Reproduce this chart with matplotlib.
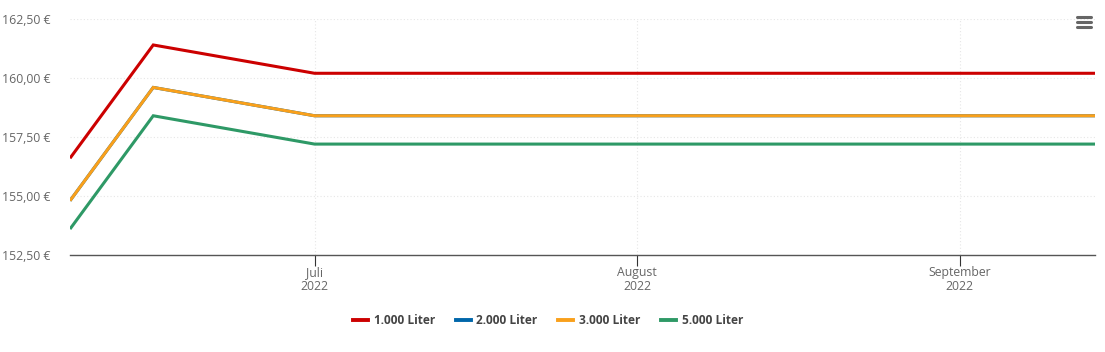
import matplotlib
matplotlib.use("Agg")
import matplotlib.pyplot as plt
from matplotlib.lines import Line2D
import datetime as dt

plt.rcParams['font.family'] = ['Open Sans', 'DejaVu Sans']

dates = [dt.datetime(2022, 6, 7, 12), dt.datetime(2022, 6, 15, 12), dt.datetime(2022, 7, 1), dt.datetime(2022, 9, 14)]
series_names = ["1.000 Liter", "2.000 Liter", "3.000 Liter", "5.000 Liter"]
s1000 = [156.6, 161.4, 160.2, 160.2]
s2000 = [154.8, 159.6, 158.4, 158.4]
s3000 = [154.8, 159.6, 158.4, 158.4]
s5000 = [153.6, 158.4, 157.2, 157.2]
colors = ["#cc0000", "#0066aa", "#f9a01b", "#2e9966"]
tick_dates = [dt.datetime(2022, 7, 1), dt.datetime(2022, 8, 1), dt.datetime(2022, 9, 1)]
tick_labels = ["Juli\n2022", "August\n2022", "September\n2022"]
y_ticks = [152.5, 155.0, 157.5, 160.0, 162.5]

fig = plt.figure(figsize=(11.05, 3.52), dpi=100)
ax = fig.add_axes([70/1105, 1-255/352, (1095-70)/1105, (255-19)/352])

for name, vals, c in zip(series_names, [s1000, s2000, s3000, s5000], colors):
    ax.plot(dates, vals, color=c, lw=2.2, label=name, solid_joinstyle='miter', solid_capstyle='butt')

ax.set_xlim(dates[0], dates[-1])
ax.set_ylim(152.5, 162.5)
ax.set_yticks(y_ticks)
ax.set_yticklabels([f"{v:,.2f} €".replace(".", ",") for v in y_ticks])
ax.set_xticks(tick_dates)
ax.set_xticklabels(tick_labels)

ax.grid(True, color="#e6e6e6", linestyle=(0, (1, 2)), linewidth=0.8)
ax.set_axisbelow(True)
for s in ["top", "right", "left"]:
    ax.spines[s].set_visible(False)
ax.spines["bottom"].set_color("#555555")
ax.spines["bottom"].set_linewidth(1)
ax.tick_params(axis="y", length=0, labelcolor="#666666", labelsize=8.8, pad=14)
ax.tick_params(axis="x", length=8, color="#333333", labelcolor="#666666", labelsize=8.8, pad=0)
for lbl in ax.get_xticklabels():
    lbl.set_linespacing(1.1)

handles = [Line2D([0], [0], color=c, lw=2.8) for c in colors]
leg = fig.legend(handles, series_names, loc="center", bbox_to_anchor=(548/1105, 1-321/352),
                 ncol=4, frameon=False, handlelength=1.25, handletextpad=0.5, columnspacing=1.7,
                 prop={'size': 8.6, 'weight': 'bold'})
for t in leg.get_texts():
    t.set_color("#444444")

# menu icon
for yy in [17, 22, 27]:
    fig.add_artist(Line2D([1077/1105, 1091/1105], [1-yy/352, 1-yy/352], color="#666666", lw=2.2,
                          solid_capstyle='round'))

fig.savefig("out.png", dpi=100)
